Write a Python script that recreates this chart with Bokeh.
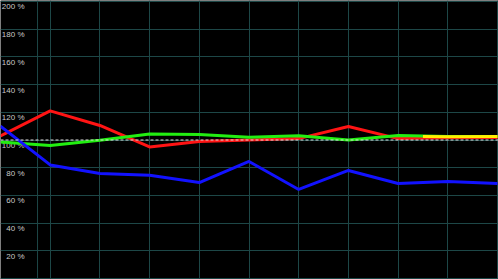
from bokeh.plotting import figure
from bokeh.models import Range1d, Span, Grid, FixedTicker, ColumnDataSource
from bokeh.embed import file_html
from bokeh.resources import INLINE
from bokeh.core.properties import value

# ---- data ----
x_idx = [0, 1, 2, 3, 4, 5, 6, 7, 8, 9, 10]
red_vals = [103, 121, 110.5, 95, 99, 100, 101, 109.7, 101, 101.6, 101.8]
green_vals = [98.5, 96, 99.8, 104.3, 104, 102, 103, 100, 103.2, 102.5, 102.5]
blue_vals = [110, 82, 75.8, 74.5, 69.3, 84.5, 64.3, 78, 68.6, 70, 68.6]
# segment where the red and green traces coincide (drawn yellow)
overlap_x = [8.5, 9, 10]
overlap_vals = [102.6, 102.4, 102.6]
y_ticks = [20, 40, 60, 80, 100, 120, 140, 160, 180, 200]
y_tick_labels = ["20 %", "40 %", "60 %", "80 %", "100 %", "120 %", "140 %", "160 %", "180 %", "200 %"]
x_grid = [1, 2, 3, 4, 5, 6, 7, 8, 9, 10]
y_grid = [0, 20, 40, 60, 80, 100, 120, 140, 160, 180, 200]
marker_x = 0.745
reference_level = 100

p = figure(width=498, height=279, output_backend="svg", toolbar_location=None,
           x_axis_location=None, y_axis_location=None, min_border=0,
           x_range=Range1d(0, 10.02), y_range=Range1d(-0.72, 200.72),
           background_fill_color="#000000", border_fill_color="#000000",
           outline_line_color=None)
p.grid.visible = False

grid_color = "#1d4747"
p.add_layout(Grid(dimension=0, ticker=FixedTicker(ticks=x_grid), grid_line_color=grid_color, grid_line_width=1))
p.add_layout(Grid(dimension=1, ticker=FixedTicker(ticks=y_grid), grid_line_color=grid_color, grid_line_width=1))
p.add_layout(Span(location=marker_x, dimension="height", line_color=grid_color, line_width=1, level="underlay"))

lbl = ColumnDataSource(dict(x=[0] * len(y_ticks), y=y_ticks, t=y_tick_labels))
p.text(x="x", y="y", text="t", source=lbl, x_offset=24, y_offset=1,
       text_align="right", text_baseline="top", text_color="#c8c8c8",
       text_font=value("Liberation Sans"), text_font_size="8px")

src = ColumnDataSource(dict(x=x_idx, r=red_vals, g=green_vals, b=blue_vals))
p.line("x", "r", source=src, line_color="#ff1414", line_width=3)
p.line("x", "g", source=src, line_color="#22ee11", line_width=3)
p.line(overlap_x, overlap_vals, line_color="#ffee00", line_width=3)
p.line("x", "b", source=src, line_color="#1212ff", line_width=3)

p.add_layout(Span(location=reference_level, dimension="width", line_color="#e0e0e0",
                  line_width=1, line_dash="3 2"))

open("out.html", "w").write(file_html(p, INLINE))
